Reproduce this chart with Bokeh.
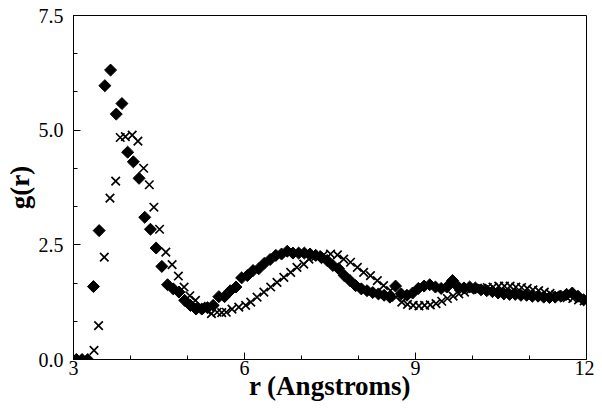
import math
from bokeh.plotting import figure
from bokeh.models import Range1d, FixedTicker
from bokeh.embed import file_html
from bokeh.resources import INLINE

# Series 1: filled diamonds
r_diamond = [3.05, 3.15, 3.25, 3.35, 3.45, 3.55, 3.65, 3.75, 3.85, 3.95,
             4.05, 4.15, 4.25, 4.35, 4.45, 4.55, 4.65, 4.75, 4.85, 4.95,
             5.05, 5.15, 5.25, 5.35, 5.45, 5.55, 5.65, 5.75, 5.85, 5.95,
             6.05, 6.15, 6.25, 6.35, 6.45, 6.55, 6.65, 6.75, 6.85, 6.95,
             7.05, 7.15, 7.25, 7.35, 7.45, 7.55, 7.65, 7.75, 7.85, 7.95,
             8.05, 8.15, 8.25, 8.35, 8.45, 8.55, 8.65, 8.75, 8.85, 8.95,
             9.05, 9.15, 9.25, 9.35, 9.45, 9.55, 9.65, 9.75, 9.85, 9.95,
             10.05, 10.15, 10.25, 10.35, 10.45, 10.55, 10.65, 10.75, 10.85, 10.95,
             11.05, 11.15, 11.25, 11.35, 11.45, 11.55, 11.65, 11.75, 11.85, 11.95]
g_diamond = [0.0, 0.0, 0.0, 1.59, 2.81, 5.97, 6.31, 5.35, 5.58, 4.52,
             4.31, 3.95, 3.10, 2.84, 2.43, 2.03, 1.63, 1.54, 1.47, 1.29,
             1.18, 1.10, 1.10, 1.13, 1.18, 1.37, 1.37, 1.50, 1.58, 1.78,
             1.83, 1.94, 1.98, 2.10, 2.18, 2.27, 2.30, 2.36, 2.32, 2.32,
             2.32, 2.30, 2.27, 2.22, 2.16, 2.05, 1.98, 1.83, 1.72, 1.61,
             1.54, 1.50, 1.46, 1.43, 1.40, 1.36, 1.60, 1.43, 1.40, 1.45,
             1.55, 1.60, 1.63, 1.58, 1.55, 1.58, 1.72, 1.58, 1.56, 1.58,
             1.56, 1.52, 1.50, 1.48, 1.45, 1.43, 1.42, 1.42, 1.40, 1.40,
             1.38, 1.38, 1.36, 1.35, 1.36, 1.38, 1.42, 1.45, 1.38, 1.30]

# Series 2: x markers
r_cross = [3.0, 3.1, 3.2, 3.36, 3.44, 3.54, 3.64, 3.74, 3.82, 3.91,
           4.03, 4.13, 4.23, 4.33, 4.41, 4.51, 4.62, 4.73, 4.84, 4.94,
           5.04, 5.14, 5.24, 5.33, 5.42, 5.52, 5.60, 5.68, 5.78, 5.90,
           6.02, 6.11, 6.22, 6.34, 6.46, 6.57, 6.69, 6.81, 6.92, 7.04,
           7.13, 7.25, 7.39, 7.51, 7.63, 7.74, 7.86, 7.98, 8.09, 8.21,
           8.33, 8.44, 8.56, 8.66, 8.76, 8.86, 8.96, 9.06, 9.16, 9.26,
           9.36, 9.46, 9.56, 9.66, 9.76, 9.86, 9.96, 10.06, 10.16, 10.26,
           10.36, 10.46, 10.56, 10.66, 10.76, 10.86, 10.96, 11.06, 11.16, 11.26,
           11.36, 11.46, 11.56, 11.66, 11.76, 11.86, 11.96]
g_cross = [0.0, 0.0, 0.0, 0.20, 0.74, 2.23, 3.52, 3.89, 4.84, 4.86,
           4.89, 4.76, 4.17, 3.81, 3.32, 2.84, 2.34, 2.07, 1.82, 1.58,
           1.39, 1.29, 1.16, 1.08, 1.00, 1.03, 1.02, 1.03, 1.10, 1.14,
           1.18, 1.25, 1.36, 1.47, 1.58, 1.68, 1.79, 1.90, 2.01, 2.08,
           2.19, 2.25, 2.28, 2.30, 2.28, 2.19, 2.12, 2.01, 1.90, 1.83,
           1.72, 1.61, 1.50, 1.36, 1.25, 1.20, 1.18, 1.17, 1.18, 1.19,
           1.22, 1.27, 1.33, 1.38, 1.43, 1.47, 1.52, 1.54, 1.55, 1.57,
           1.58, 1.60, 1.60, 1.60, 1.58, 1.57, 1.55, 1.52, 1.50, 1.47,
           1.44, 1.41, 1.38, 1.35, 1.33, 1.30, 1.28]

x_ticks = [3, 6, 9, 12]
x_minor = [4, 5, 7, 8, 10, 11]
y_ticks = [0.0, 2.5, 5.0, 7.5]
y_minor = [0.8333, 1.6667, 3.3333, 4.1667, 5.8333, 6.6667]
y_tick_labels = {0.0: "0.0", 2.5: "2.5", 5.0: "5.0", 7.5: "7.5"}

FONT = "Liberation Serif"

p = figure(width=594, height=410, output_backend="svg", toolbar_location=None,
           x_range=Range1d(3, 12), y_range=Range1d(0, 7.5),
           min_border_left=73, min_border_right=8, min_border_top=15, min_border_bottom=51)
p.grid.visible = False
p.outline_line_color = "black"
p.outline_line_width = 1
p.background_fill_color = "white"
p.border_fill_color = "white"

p.scatter(r_cross, g_cross, marker="x", size=12, line_color="black", line_width=1.7)
p.scatter(r_diamond, g_diamond, marker="square", angle=math.pi / 4, size=8.5,
          fill_color="black", line_color="black", line_width=1)

p.xaxis.ticker = FixedTicker(ticks=x_ticks, minor_ticks=x_minor)
p.yaxis.ticker = FixedTicker(ticks=y_ticks, minor_ticks=y_minor)
p.yaxis.major_label_overrides = y_tick_labels

for ax in (p.xaxis[0], p.yaxis[0]):
    ax.axis_line_color = "black"
    ax.major_tick_in = 7
    ax.major_tick_out = 0
    ax.minor_tick_in = 4
    ax.minor_tick_out = 0
    ax.major_tick_line_color = "black"
    ax.minor_tick_line_color = "black"
    ax.major_label_text_font = FONT
    ax.major_label_text_font_size = "20px"
    ax.major_label_text_color = "black"
    ax.axis_label_text_font = FONT
    ax.axis_label_text_font_style = "bold"
    ax.axis_label_text_font_size = "27px"
    ax.axis_label_text_color = "black"

p.xaxis.axis_label = "r (Angstroms)"
p.yaxis.axis_label = "g(r)"
p.xaxis.major_label_standoff = 1
p.xaxis.axis_label_standoff = -7
p.yaxis.major_label_standoff = 10
p.yaxis.axis_label_standoff = 1

open("out.html", "w").write(file_html(p, INLINE))
